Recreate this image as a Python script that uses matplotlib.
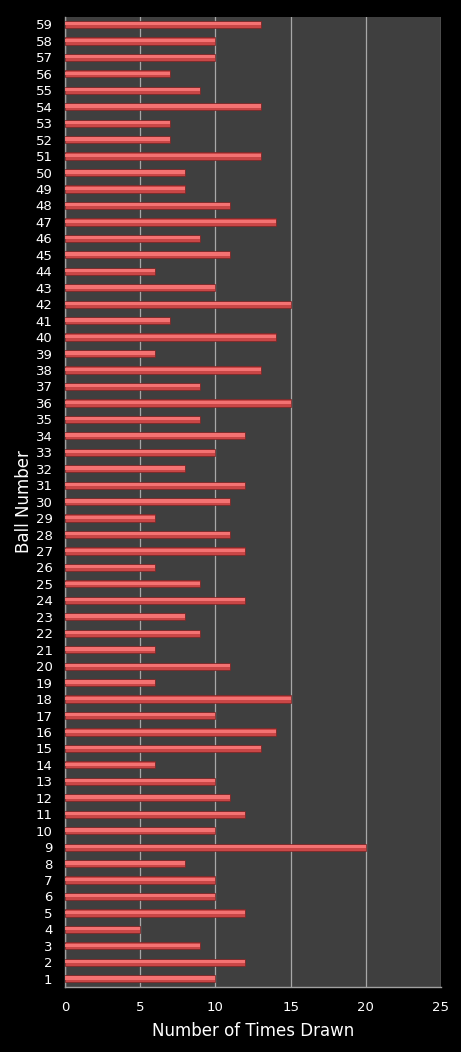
import matplotlib
matplotlib.use("Agg")
import matplotlib.pyplot as plt
import numpy as np

balls = list(range(1, 60))
counts = [10, 12, 9, 5, 12, 10, 10, 8, 20, 10,
          12, 11, 10, 6, 13, 14, 10, 15, 6, 11,
          6, 9, 8, 12, 9, 6, 12, 11, 6, 11,
          12, 8, 10, 12, 9, 15, 9, 13, 6, 14,
          7, 15, 10, 6, 11, 9, 14, 11, 8, 8,
          13, 7, 7, 13, 9, 7, 10, 10, 13]
xticks = [0, 5, 10, 15, 20, 25]

fig = plt.figure(figsize=(4.61, 10.52), dpi=100, facecolor="black")
ax = fig.add_axes([0.141, 0.0618, 0.8156, 0.922])
ax.set_facecolor("#3f3f3f")

y = np.array(balls)
ax.barh(y, counts, height=0.44, color="#c94646", edgecolor="#7a2424", linewidth=0.5, zorder=3)
ax.barh(y + 0.04, counts, height=0.2, color="#f47272", linewidth=0, zorder=4)

ax.set_xlim(0, 25)
ax.set_ylim(0.5, 59.45)
ax.set_xticks(xticks)
ax.set_yticks(balls)
ax.set_yticklabels([str(b) for b in balls])
ax.grid(axis="x", color="#a8a8a8", linewidth=0.9, zorder=1)
ax.set_axisbelow(True)
for s in ["top", "right"]:
    ax.spines[s].set_visible(False)
for s in ["left", "bottom"]:
    ax.spines[s].set_color("#a0a0a0")
    ax.spines[s].set_linewidth(1)
ax.tick_params(colors="white", labelsize=9.5, length=0)
ax.tick_params(axis="y", pad=9)
ax.tick_params(axis="x", pad=10)
ax.set_xlabel("Number of Times Drawn", color="white", fontsize=12, labelpad=6)
ax.set_ylabel("Ball Number", color="white", fontsize=12, labelpad=2)

fig.savefig("out.png", dpi=100, facecolor="black")
